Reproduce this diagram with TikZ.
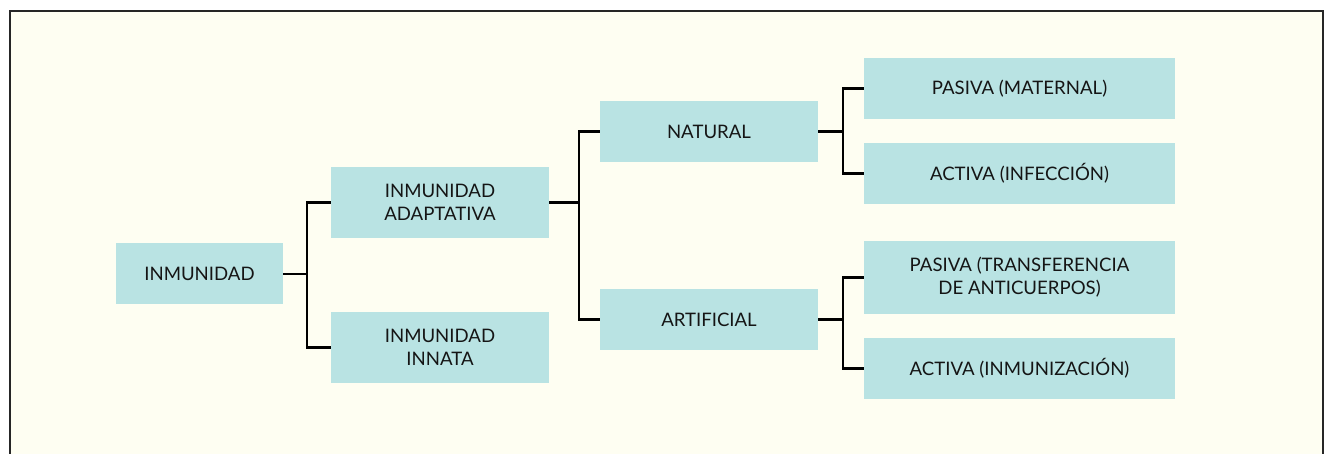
\documentclass[tikz,border=0pt]{standalone}
\usepackage{fontspec}
\setmainfont{Lato}
\definecolor{bgivory}{HTML}{FEFEF2}
\definecolor{boxteal}{HTML}{B9E3E3}
\definecolor{txtdark}{HTML}{151515}
\begin{document}
\begin{tikzpicture}[x=1pt,y=-1pt,
  box/.style={fill=boxteal,draw=none,inner sep=0pt,align=center,
    text=txtdark,font=\fontsize{18.6}{23}\selectfont},
  conn/.style={draw=black,line width=2.4pt}]
\useasboundingbox (0,0) rectangle (1333,454);
\fill[white] (0,0) rectangle (1333,454);
\fill[bgivory] (10,11) rectangle (1323,454);
\draw[line width=1.5pt,draw=black!85] (10,454) -- (10,11) -- (1323,11) -- (1323,454);

\node[box,minimum width=167pt,minimum height=61pt] (inm) at (199.5,274) {INMUNIDAD};
\node[box,minimum width=218pt,minimum height=71pt] (adap) at (440,202.5) {INMUNIDAD\\ADAPTATIVA};
\node[box,minimum width=218pt,minimum height=71pt] (innata) at (440,347.5) {INMUNIDAD\\INNATA};
\node[box,minimum width=218pt,minimum height=61pt] (nat) at (709,131.5) {NATURAL};
\node[box,minimum width=218pt,minimum height=61pt] (art) at (709,319.5) {ARTIFICIAL};
\node[box,minimum width=311pt,minimum height=61pt] (pm) at (1019.5,88.5) {PASIVA (MATERNAL)};
\node[box,minimum width=311pt,minimum height=61pt] (ai) at (1019.5,173.5) {ACTIVA (INFECCIÓN)};
\node[box,minimum width=311pt,minimum height=73pt] (pt) at (1019.5,277.5) {PASIVA (TRANSFERENCIA\\DE ANTICUERPOS)};
\node[box,minimum width=311pt,minimum height=61pt] (aim) at (1019.5,368.5) {ACTIVA (INMUNIZACIÓN)};

\draw[conn] (inm.east) -- ++(24,0) coordinate (j1);
\draw[conn] (adap.west) -| (j1) |- (innata.west);
\draw[conn] (adap.east) -- ++(30,0) coordinate (j2);
\draw[conn] (nat.west) -| (j2) |- (art.west);
\draw[conn] (nat.east) -- ++(25,0) coordinate (j3);
\draw[conn] (pm.west) -| (j3) |- (ai.west);
\draw[conn] (art.east) -- ++(25,0) coordinate (j4);
\draw[conn] (pt.west) -| (j4) |- (aim.west);
\end{tikzpicture}
\end{document}
